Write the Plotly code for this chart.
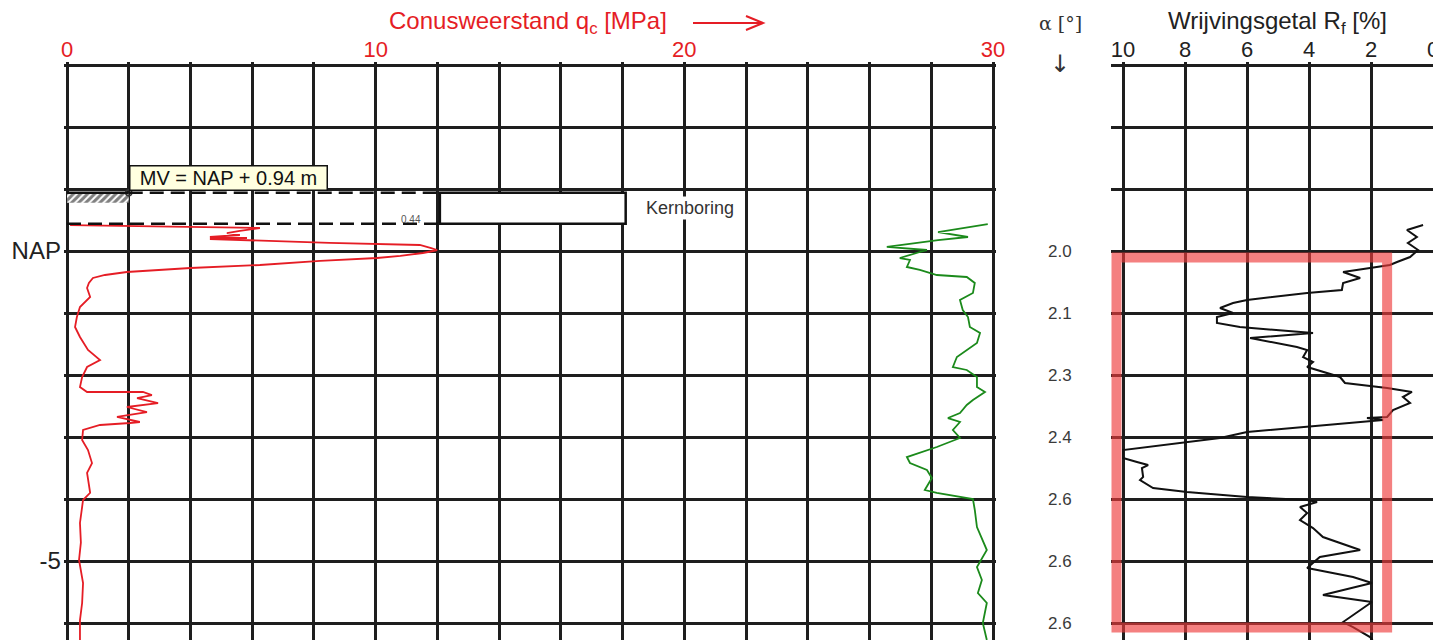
import plotly.graph_objects as go

# ---------------- data ----------------
# Cone resistance qc [MPa] against depth [m relative to NAP]
qc_depth = [0.419, 0.371, 0.323, 0.29, 0.258, 0.226, 0.21, 0.194, 0.13, 0.097, 0.048, 0.016, 0.0,
            -0.032, -0.08, -0.113, -0.16, -0.226, -0.274, -0.339, -0.387, -0.435, -0.516, -0.597,
            -0.742, -0.903, -1.065, -1.226, -1.387, -1.597, -1.758, -1.871, -2.032, -2.194, -2.274,
            -2.274, -2.323, -2.371, -2.452, -2.516, -2.597, -2.677, -2.758, -2.774, -2.806, -2.887,
            -3.048, -3.21, -3.42, -3.58, -3.90, -4.016, -4.387, -4.70, -4.984, -5.355, -5.677,
            -5.952, -6.274]
qc_value = [0.1, 6.25, 5.6, 5.18, 5.6, 4.63, 5.83, 4.63, 8.5, 11.43, 11.8, 11.99, 11.86,
            11.53, 10.8, 10.04, 8.2, 6.25, 4.0, 1.94, 1.23, 0.84, 0.71, 0.65,
            0.75, 0.42, 0.32, 0.26, 0.42, 0.68, 1.07, 0.65, 0.49, 0.42, 0.65,
            2.46, 2.75, 2.27, 2.95, 1.94, 2.59, 1.62, 2.36, 2.04, 1.07, 0.52,
            0.49, 0.68, 0.81, 0.65, 0.75, 0.52, 0.42, 0.45, 0.39, 0.52, 0.49,
            0.42, 0.42]

# Second cone trace (green), plotted on the qc scale
g_depth = [0.435, 0.306, 0.226, 0.177, 0.065, 0.016, -0.016, -0.113, -0.145, -0.258, -0.306,
           -0.387, -0.419, -0.516, -0.677, -0.79, -0.952, -1.065, -1.226, -1.323, -1.484,
           -1.597, -1.71, -1.871, -1.919, -2.032, -2.194, -2.274, -2.403, -2.484, -2.613,
           -2.694, -2.758, -2.887, -3.016, -3.161, -3.323, -3.419, -3.532, -3.661, -3.855,
           -3.903, -4.0, -4.177, -4.452, -4.823, -5.097, -5.306, -5.516, -5.677, -6.0, -6.274]
g_value = [29.83, 28.22, 29.19, 28.22, 26.56, 27.86, 27.63, 26.98, 27.31, 27.21, 27.63,
           28.18, 29.15, 29.41, 29.35, 28.93, 29.02, 29.19, 29.25, 29.58, 29.48,
           29.15, 28.83, 28.70, 29.15, 29.48, 29.48, 29.74, 29.35, 29.15, 28.93,
           28.54, 28.93, 28.70, 28.93, 28.18, 27.21, 27.31, 27.86, 28.02, 27.79,
           28.18, 29.35, 29.41, 29.48, 29.80, 29.48, 29.64, 29.51, 29.80, 29.67, 29.80]

# Friction ratio Rf [%]
rf_depth = [0.419, 0.339, 0.226, 0.129, 0.016, -0.097, -0.177, -0.226, -0.274, -0.339, -0.435,
            -0.516, -0.629, -0.677, -0.79, -0.839, -0.919, -1.0, -1.065, -1.161, -1.226,
            -1.323, -1.403, -1.435, -1.548, -1.597, -1.71, -1.79, -1.871, -2.032, -2.129,
            -2.21, -2.274, -2.355, -2.452, -2.565, -2.677, -2.694, -2.726, -2.919, -3.016,
            -3.21, -3.242, -3.339, -3.403, -3.452, -3.5, -3.645, -3.694, -3.823, -3.887,
            -3.968, -4.016, -4.048, -4.129, -4.226, -4.339, -4.468, -4.613, -4.823, -4.935,
            -5.113, -5.258, -5.355, -5.548, -5.661, -5.984, -6.065, -6.226, -6.274]
rf_value = [0.32, 0.84, 0.52, 0.81, 0.48, 0.74, 1.16, 1.39, 2.03, 2.90, 2.35,
            2.90, 2.94, 4.06, 6.0, 6.45, 6.87, 6.45, 6.97, 6.97, 6.23,
            3.87, 5.90, 5.58, 4.39, 4.06, 4.19, 3.87, 4.06, 3.0, 2.84,
            1.48, 0.68, 0.97, 0.74, 1.29, 1.48, 2.13, 1.61, 6.0, 6.87,
            10.0, 10.0, 10.0, 9.55, 9.19, 9.39, 9.35, 9.45, 9.03, 7.94,
            6.0, 4.06, 3.74, 4.29, 4.06, 4.29, 3.87, 3.55, 2.35, 3.65,
            4.06, 2.58, 1.97, 3.55, 1.97, 2.90, 2.58, 2.03, 1.95]

# Inclination alpha [deg] per metre
alpha_depth = [0, -1, -2, -3, -4, -5, -6]
alpha_label = ["2.0", "2.1", "2.3", "2.4", "2.6", "2.6", "2.6"]

qc_ticks = [0, 10, 20, 30]
rf_ticks = [10, 8, 6, 4, 2, 0]
depth_ticks = [-5, 0]
depth_ticktext = ["-5", "NAP"]

mv_level = 0.94        # ground level (MV) relative to NAP
core_level = 0.44      # bottom of the core drilling
core_qc = [12.08, 18.1]

FONT = "Liberation Sans, Arial, sans-serif"
GRID = "#1e1e1e"
RED = "#e51d25"

W = 1433.0
TOP = 62               # top margin in px
H = 640 - TOP

fig = go.Figure()

# ground level hatch
fig.add_trace(go.Scatter(
    x=[0, 2, 2, 0, 0], y=[mv_level, mv_level, mv_level - 0.16, mv_level - 0.16, mv_level],
    fill="toself", mode="lines", line=dict(width=0, color="rgba(0,0,0,0)"),
    fillcolor="rgba(0,0,0,0)",
    fillpattern=dict(shape="/", fgcolor="#000", bgcolor="white", size=5, solidity=0.6),
    xaxis="x", yaxis="y", hoverinfo="skip", showlegend=False))

fig.add_trace(go.Scatter(x=qc_value, y=qc_depth, mode="lines",
                         line=dict(color=RED, width=1.8), xaxis="x", yaxis="y", showlegend=False))
fig.add_trace(go.Scatter(x=g_value, y=g_depth, mode="lines",
                         line=dict(color="#1b8a1b", width=1.8), xaxis="x", yaxis="y", showlegend=False))
fig.add_trace(go.Scatter(x=[2], y=[mv_level], mode="markers",
                         marker=dict(symbol="circle-open", size=6, color="#333", line=dict(width=1.5)),
                         xaxis="x", yaxis="y", showlegend=False))
fig.add_trace(go.Scatter(x=rf_value, y=rf_depth, mode="lines",
                         line=dict(color="#111", width=2), xaxis="x2", yaxis="y2", showlegend=False))

y_range = [-6.274, 3.0 + (65 - TOP) / 62]
grid = dict(showgrid=True, gridcolor=GRID, gridwidth=2.5)

fig.update_layout(
    width=1433, height=640, autosize=False,
    margin=dict(l=0, r=0, t=TOP, b=0),
    paper_bgcolor="white", plot_bgcolor="white",
    font=dict(family=FONT),
    xaxis=dict(domain=[(67 - 0.1 * 926 / 30) / W, (993 + 0.1 * 926 / 30) / W], range=[-0.1, 30.1],
               side="top", anchor="y", automargin=False, tickvals=qc_ticks,
               minor=dict(tick0=0, dtick=2, **grid), **grid,
               zeroline=False, showline=False, ticks="",
               tickfont=dict(family=FONT, size=22, color=RED), ticklabelstandoff=0),
    yaxis=dict(domain=[0, 1], range=y_range, anchor="x", automargin=False,
               tickvals=depth_ticks, ticktext=depth_ticktext,
               minor=dict(tick0=0, dtick=1, **grid), **grid,
               zeroline=False, showline=False, ticks="",
               tickfont=dict(family=FONT, size=24, color="#222"), ticklabelstandoff=2),
    xaxis2=dict(domain=[(1433 - 10.4 * 31) / W, 1.0], range=[10.4, 0], side="top", anchor="y2",
                automargin=False, ticklabeloverflow="allow",
                tickvals=rf_ticks, **grid, zeroline=False, showline=False, ticks="",
                tickfont=dict(family=FONT, size=22, color="#222"), ticklabelstandoff=0),
    yaxis2=dict(domain=[0, 1], range=y_range, anchor="x2", automargin=False,
                tickvals=depth_ticks, minor=dict(tick0=0, dtick=1, **grid),
                showticklabels=False, **grid,
                zeroline=False, showline=False, ticks=""),
)


def py(p):
    return (640 - p) / H


shapes = [
    # ground level line over the hatch
    dict(type="line", xref="x", yref="y", x0=0, x1=2, y0=mv_level, y1=mv_level,
         line=dict(color="#111", width=2.5)),
    dict(type="line", xref="x", yref="y", x0=2, x1=core_qc[0], y0=mv_level, y1=mv_level,
         line=dict(color="#111", width=2.5, dash="14px,7px")),
    dict(type="line", xref="x", yref="y", x0=0, x1=core_qc[0], y0=core_level, y1=core_level,
         line=dict(color="#111", width=2.5, dash="14px,7px")),
    dict(type="rect", xref="x", yref="y", x0=core_qc[0], x1=core_qc[1], y0=core_level, y1=mv_level,
         line=dict(color="#111", width=2.5), fillcolor="white", layer="above"),
    # highlighted zone in the friction ratio column
    dict(type="rect", xref="x2", yref="y2", x0=10.21, x1=1.48, y0=-0.105, y1=-6.073,
         line=dict(color="rgba(238,60,60,0.65)", width=10), fillcolor="rgba(0,0,0,0)", layer="above"),
    # arrow next to the qc title
    dict(type="path", xref="paper", yref="paper",
         path=f"M {693/W},{py(23)} L {763/W},{py(23)} "
              f"M {746/W},{py(16)} L {763/W},{py(23)} L {746/W},{py(30)}",
         line=dict(color=RED, width=2)),
]
fig.update_layout(shapes=shapes)

annotations = [
    dict(text="Conusweerstand q<sub>c</sub> [MPa]", xref="paper", yref="paper", x=528 / W, y=py(23),
         showarrow=False, font=dict(family=FONT, size=24, color=RED), xanchor="center", yanchor="middle"),
    dict(text="Wrijvingsgetal R<sub>f</sub> [%]", xref="paper", yref="paper", x=1277 / W, y=py(23),
         showarrow=False, font=dict(family=FONT, size=24, color="#222"), xanchor="center", yanchor="middle"),
    dict(text="α [°]", xref="paper", yref="paper", x=1060 / W, y=py(23), showarrow=False,
         font=dict(family="DejaVu Serif, serif", size=19, color="#333"), xanchor="center", yanchor="middle"),
    dict(text="↓", xref="paper", yref="paper", x=1060 / W, y=py(64), showarrow=False,
         font=dict(family="DejaVu Sans", size=24, color="#333"), xanchor="center", yanchor="middle"),
    dict(text="MV = NAP + 0.94 m", xref="x", yref="y", x=2, y=0.968, xanchor="left", yanchor="bottom",
         showarrow=False, font=dict(family=FONT, size=20, color="#111"), bgcolor="#ffffe0",
         bordercolor="#111", borderwidth=1.5, borderpad=1, width=194, height=21),
    dict(text="Kernboring", xref="x", yref="y", x=20.18, y=0.69, showarrow=False,
         font=dict(family=FONT, size=18, color="#333"), bgcolor="white"),
    dict(text="0.44", xref="x", yref="y", x=11.14, y=0.516, showarrow=False,
         font=dict(family=FONT, size=10, color="#555")),
]
# inclination readings, one per metre, in the column between the two panels
for d, lab in zip(alpha_depth, alpha_label):
    annotations.append(dict(text=lab, xref="paper", yref="y2", x=1060 / W, y=d, showarrow=False,
                            xanchor="center", yanchor="middle",
                            font=dict(family=FONT, size=17, color="#3a3a3a")))
fig.update_layout(annotations=annotations)

fig.write_html("out.html")
